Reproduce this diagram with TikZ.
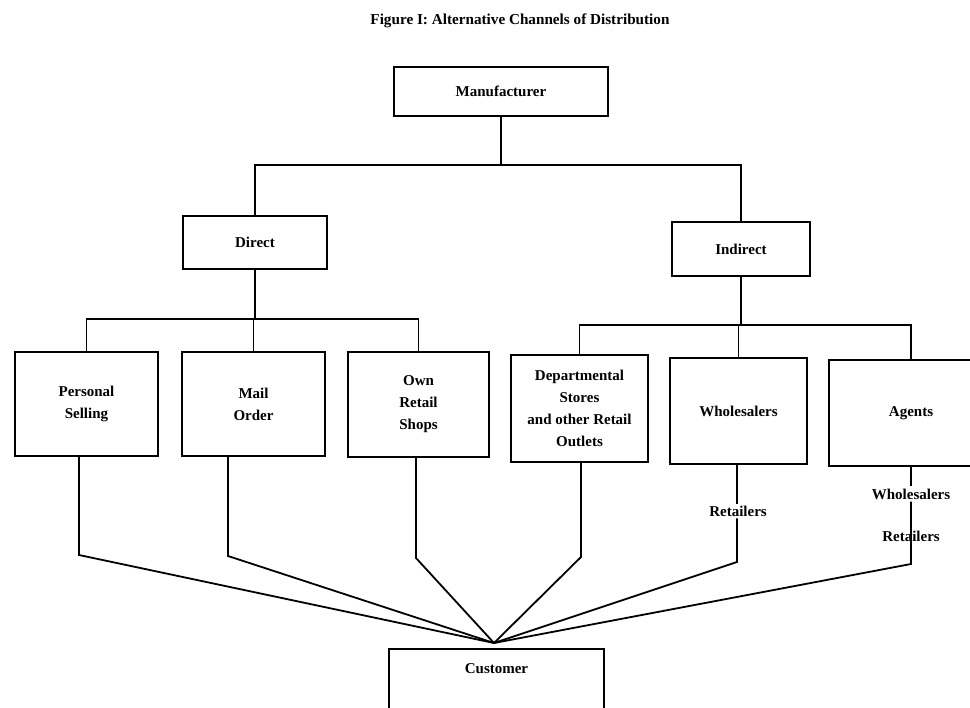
\documentclass[tikz,border=0pt]{standalone}
\usepackage{fontspec}
\setmainfont{Liberation Serif}
\begin{document}
\begin{tikzpicture}[x=1pt,y=-1pt,
  every node/.style={font=\bfseries\fontsize{15}{22}\selectfont, align=center},
  box/.style={draw, line width=1.8pt, inner sep=0pt},
  lab/.style={inner sep=2pt},
  conn/.style={line width=1.8pt, line join=miter}]
\useasboundingbox (0,0) rectangle (970,708);
% title
\node (title) at (520,21) {\fontsize{15.2}{17}\selectfont Figure I: Alternative Channels of Distribution};
% level 1
\node[box, minimum width=214pt, minimum height=49pt] (man) at (501,91.5) {Manufacturer};
% level 2
\node[box, minimum width=144pt, minimum height=53pt] (direct) at (255,242.5) {Direct};
\node[box, minimum width=138pt, minimum height=54pt] (indirect) at (741,249) {Indirect};
% level 3
\node[box, minimum width=143pt, minimum height=104pt] (ps) at (86.5,404) {Personal\\Selling};
\node[box, minimum width=143pt, minimum height=104pt] (mo) at (253.5,404) {Mail\\Order};
\node[box, minimum width=141pt, minimum height=105pt] (ors) at (418.5,404.5) {Own\\Retail\\Shops};
\node[box, minimum width=137pt, minimum height=107pt] (dept) at (579.5,408.5) {Departmental\\Stores\\and other Retail\\Outlets};
\node[box, minimum width=137pt, minimum height=106pt] (whol) at (738.5,411) {Wholesalers};
\node[box, minimum width=164pt, minimum height=106pt] (agents) at (911,413) {Agents};
% intermediaries
\node[lab] (r1) at (738,511) {Retailers};
\node[lab] (w2) at (911,494) {Wholesalers};
\node[lab] (r2) at (911,536) {Retailers};
% customer
\node[box, minimum width=215pt, text height=11pt, text depth=60pt, inner ysep=14pt, anchor=north] (cust) at (496.5,648) {Customer};
% junction coordinates
\coordinate (jtop) at (0,165);
\coordinate (jd) at (0,319);
\coordinate (ji) at (0,325);
\coordinate (conv) at (494,643);
\coordinate (c1) at (79,555);
\coordinate (c2) at (228,556);
\coordinate (c3) at (416,558);
\coordinate (c4) at (581,557);
\coordinate (c5) at (737,562);
\coordinate (c6) at (911,564);
% top tree
\draw[conn] (man.south) -- (man.south |- jtop);
\draw[conn] (direct.north) -- (direct.north |- jtop) -- (indirect.north |- jtop) -- (indirect.north);
\draw[conn] (direct.south) -- (direct.south |- jd);
\draw[conn] (ps.north) -- (ps.north |- jd) -- (ors.north |- jd) -- (ors.north);
\draw[conn] (mo.north) -- (mo.north |- jd);
\draw[conn] (indirect.south) -- (indirect.south |- ji);
\draw[conn] (dept.north) -- (dept.north |- ji) -- (agents.north |- ji) -- (agents.north);
\draw[conn] (whol.north) -- (whol.north |- ji);
% to customer
\draw[conn] (ps.south -| c1) -- (c1) -- (conv);
\draw[conn] (mo.south -| c2) -- (c2) -- (conv);
\draw[conn] (ors.south -| c3) -- (c3) -- (conv);
\draw[conn] (dept.south -| c4) -- (c4) -- (conv);
\draw[conn] (whol.south -| c5) -- (r1.north -| c5);
\draw[conn] (r1.south -| c5) -- (c5) -- (conv);
\draw[conn] (agents.south -| c6) -- (w2.north -| c6);
\draw[conn] (w2.south -| c6) -- (r2.center -| c6) -- (c6) -- (conv);
\end{tikzpicture}
\end{document}
